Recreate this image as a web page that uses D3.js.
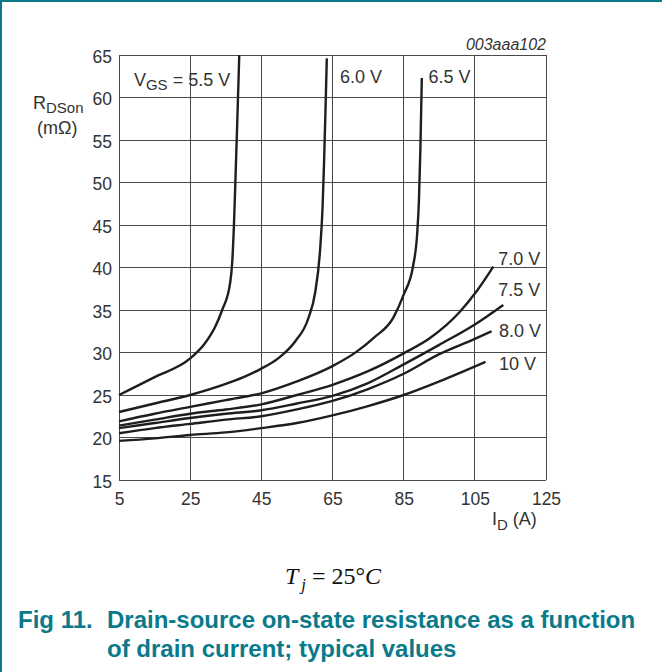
<!DOCTYPE html>
<html>
<head>
<meta charset="utf-8">
<script src="https://cdn.jsdelivr.net/npm/d3@7/dist/d3.min.js"></script>
<style>
  body { margin: 0; background: #fff; }
  svg { display: block; }
</style>
</head>
<body>
<div id="chart"></div>
<script>
// Axis ticks
const xTicks = [5, 25, 45, 65, 85, 105, 125];
const yTicks = [15, 20, 25, 30, 35, 40, 45, 50, 55, 60, 65];

// R_DSon (mOhm) vs I_D (A), one array per V_GS
const vgs55 = [[5,25.0],[15,27.1],[25,29.3],[29,31.0],[32,33.0],[34,35.0],[36.2,38.1],[36.8,40.5],[37.3,45],[37.7,50],[38.3,58],[38.8,65]];
const vgs60 = [[5,23.0],[15,24.0],[25,25.0],[35,26.3],[40,27.1],[45,28.1],[50,29.4],[54.5,31.3],[58.2,34.0],[60.1,37.0],[61.5,42.0],[62.2,47],[62.6,52],[63,58],[63.4,64.6]];
const vgs65 = [[5,21.9],[15,22.8],[25,23.6],[35,24.4],[45,25.2],[55,26.6],[65,28.4],[71.8,30.1],[76.5,31.7],[82.1,34.1],[85,36.8],[87.7,40.3],[88.8,44],[89.3,48],[89.7,54],[90.1,62.3]];
const vgs70 = [[5,21.4],[15,22.1],[25,22.8],[35,23.3],[45,23.9],[55,25.0],[65,26.2],[75,27.8],[85,29.9],[92.4,31.7],[100.8,34.8],[105.5,37.2],[110.2,40.1]];
const vgs75 = [[5,21.1],[15,21.7],[25,22.3],[35,22.8],[45,23.2],[55,24.0],[65,24.9],[75,26.4],[85,28.6],[95,30.9],[105,33.3],[113,35.6]];
const vgs80 = [[5,20.5],[15,21.1],[25,21.6],[35,22.1],[45,22.5],[55,23.3],[65,24.3],[75,25.7],[85,27.5],[95,29.8],[105,31.6],[109.7,32.5]];
const vgs100 = [[5,19.6],[15,19.9],[25,20.3],[35,20.6],[45,21.1],[55,21.7],[65,22.6],[75,23.7],[85,25.0],[95,26.6],[108,28.9]];

const curves = [vgs55, vgs60, vgs65, vgs70, vgs75, vgs80, vgs100];
const curveLabels = ["5.5 V", "6.0 V", "6.5 V", "7.0 V", "7.5 V", "8.0 V", "10 V"];

const width = 662, height = 672;
const margin = { top: 55, right: 116, bottom: 192, left: 119 };
const teal = "#0a7a8b";
const fontSans = "'Liberation Sans', Arial, Helvetica, sans-serif";

const svg = d3.select("#chart")
  .append("svg")
  .attr("width", width)
  .attr("height", height)
  .style("font-family", fontSans);

svg.append("rect").attr("width", width).attr("height", height).attr("fill", "#fff");

// page frame (top and left rule)
svg.append("line").attr("x1", 0).attr("x2", width).attr("y1", 1).attr("y2", 1)
  .attr("stroke", teal).attr("stroke-width", 2);
svg.append("line").attr("x1", 1).attr("x2", 1).attr("y1", 0).attr("y2", height)
  .attr("stroke", teal).attr("stroke-width", 2);

const x = d3.scaleLinear().domain([5, 125]).range([margin.left, width - margin.right]);
const y = d3.scaleLinear().domain([15, 65]).range([height - margin.bottom, margin.top]);

// grid
const grid = svg.append("g").attr("stroke", "#4a4a4a").attr("stroke-width", 1).attr("shape-rendering", "crispEdges");
grid.selectAll(".hg").data(yTicks).enter().append("line")
  .attr("x1", x(5)).attr("x2", x(125))
  .attr("y1", d => y(d)).attr("y2", d => y(d));
grid.selectAll(".vg").data(xTicks).enter().append("line")
  .attr("y1", y(15)).attr("y2", y(65))
  .attr("x1", d => x(d)).attr("x2", d => x(d));

// tick labels
const xAxis = d3.axisBottom(x).tickValues(xTicks).tickSize(0).tickPadding(8);
const gx = svg.append("g").attr("transform", `translate(0,${y(15)})`).call(xAxis);
gx.select(".domain").remove();
gx.selectAll("text").attr("font-size", 17.5).attr("font-family", fontSans).attr("fill", "#333").attr("dy", "0.95em");

const yAxis = d3.axisLeft(y).tickValues(yTicks).tickSize(0).tickPadding(7);
const gy = svg.append("g").attr("transform", `translate(${x(5)},0)`).call(yAxis);
gy.select(".domain").remove();
gy.selectAll("text").attr("font-size", 17.5).attr("font-family", fontSans).attr("fill", "#333").attr("dy", "0.4em");

// curves
const line = d3.line()
  .x(d => x(d[0]))
  .y(d => y(d[1]))
  .curve(d3.curveMonotoneX);

svg.selectAll(".curve")
  .data(curves)
  .enter()
  .append("path")
  .attr("class", "curve")
  .attr("fill", "none")
  .attr("stroke", "#1e1e1e")
  .attr("stroke-width", 2.4)
  .attr("stroke-linejoin", "round")
  .attr("d", line);

// curve labels, anchored in data units
const labelAt = [[9.2, 61.3], [67.1, 61.7], [92, 61.7], [111.6, 40.3], [111.6, 36.6], [111.8, 31.8], [111.8, 27.9]];
const lab = svg.append("g").attr("font-size", 18).attr("fill", "#333");
curveLabels.forEach((t, i) => {
  const txt = lab.append("text").attr("x", x(labelAt[i][0])).attr("y", y(labelAt[i][1]));
  if (i === 0) {
    txt.append("tspan").text("V");
    txt.append("tspan").attr("font-size", 15).attr("dy", 4).text("GS");
    txt.append("tspan").attr("dy", -4).text(" = " + t);
  } else {
    txt.text(t);
  }
});

// axis titles
const yt = svg.append("g").attr("font-size", 18).attr("fill", "#333");
const r = yt.append("text").attr("x", 33).attr("y", 109);
r.append("tspan").text("R");
r.append("tspan").attr("font-size", 15).attr("dy", 4).text("DSon");
yt.append("text").attr("x", 37).attr("y", 134).text("(mΩ)");

const xt = svg.append("text").attr("x", 492).attr("y", 525).attr("font-size", 18).attr("fill", "#333");
xt.append("tspan").text("I");
xt.append("tspan").attr("font-size", 15).attr("dy", 5).text("D");
xt.append("tspan").attr("dy", -5).text(" (A)");

// figure code
svg.append("text")
  .attr("x", x(125)).attr("y", 50)
  .attr("text-anchor", "end")
  .attr("font-size", 16)
  .attr("font-style", "italic")
  .attr("fill", "#333")
  .text("003aaa102");

// condition
const tj = svg.append("text")
  .attr("x", 333).attr("y", 584)
  .attr("text-anchor", "middle")
  .attr("font-family", "'Liberation Serif', 'Times New Roman', serif")
  .attr("font-size", 24)
  .attr("fill", "#111");
tj.append("tspan").attr("font-style", "italic").text("T");
tj.append("tspan").attr("font-style", "italic").attr("font-size", 17).attr("dx", 3).attr("dy", 6).text("j");
tj.append("tspan").attr("dy", -6).text(" = 25°");
tj.append("tspan").attr("font-style", "italic").text("C");

// caption
const cap = svg.append("g").attr("font-size", 24).attr("font-weight", "bold").attr("fill", teal);
cap.append("text").attr("x", 18).attr("y", 628).text("Fig 11.");
cap.append("text").attr("x", 107).attr("y", 628).text("Drain-source on-state resistance as a function");
cap.append("text").attr("x", 107).attr("y", 657).text("of drain current; typical values");
</script>
</body>
</html>
